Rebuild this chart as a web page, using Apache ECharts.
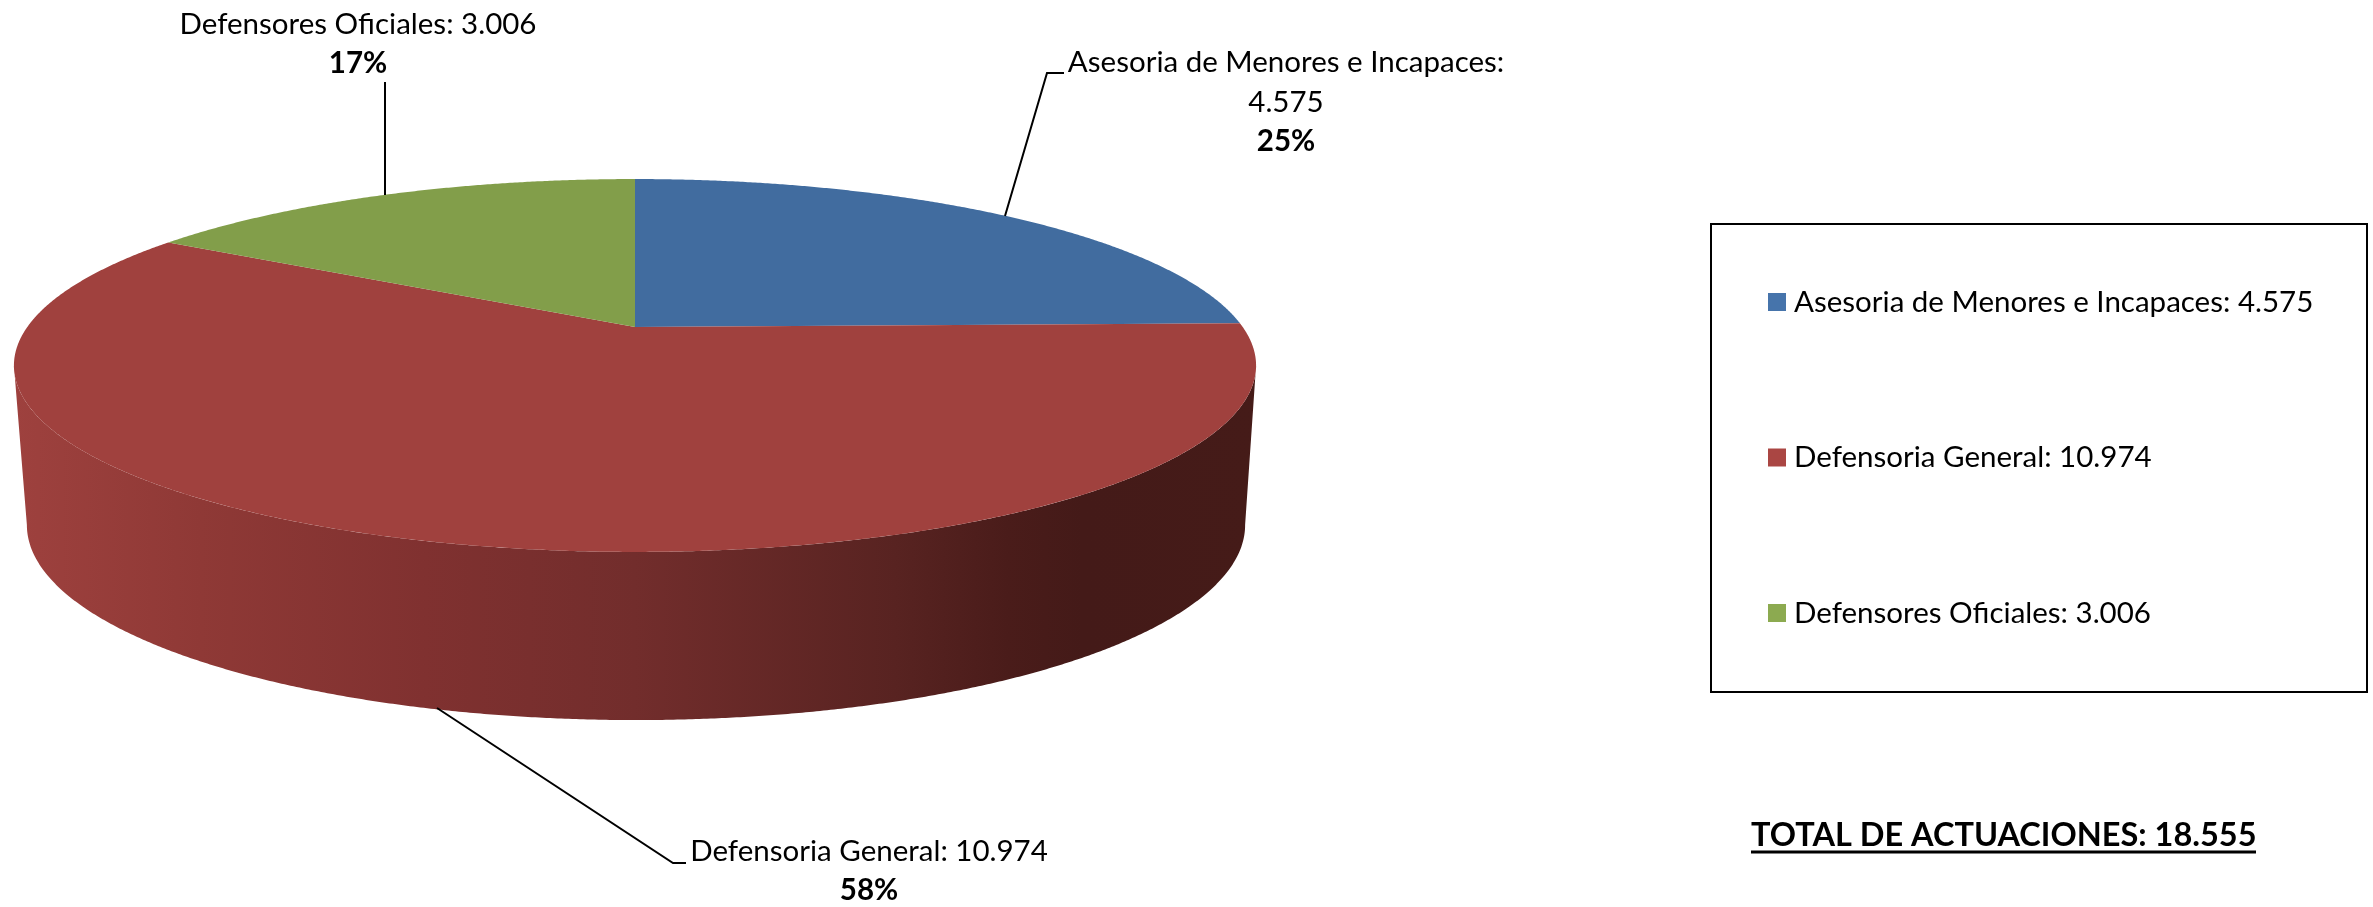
<!DOCTYPE html>
<html>
<head>
<meta charset="utf-8">
<title>Total de actuaciones</title>
<script src="https://cdn.jsdelivr.net/npm/echarts@6/dist/echarts.min.js"></script>
<style>
  html, body { margin: 0; padding: 0; background: #fff; }
  #chart { width: 2373px; height: 907px; }
</style>
</head>
<body>
<div id="chart"></div>
<script>
// datos
var categories = ['Asesoria de Menores e Incapaces', 'Defensoria General', 'Defensores Oficiales']
var values = [4575, 10974, 3006]
var valueLabels = ['4.575', '10.974', '3.006']
var percentLabels = ['25%', '58%', '17%']
var total = '18.555'

var FONT = 'Lato'
var sliceColors = ['#416c9f', '#a0413e', '#829e4a']
var legendColors = ['#4674ab', '#aa4643', '#8caa50']

// vista en perspectiva del pie: k es la fuga, top y base las dos caras
var k = 0.2064
var top3d = { x: 635, y: 327, a: 607.7, b: 178.5 }
var base3d = { x: 636, y: 484.8, a: 596, b: 186.7 }

function project(face, angle) {
  var X = Math.sin(angle)
  var Y = Math.cos(angle)
  var w = 1 + k * Y
  return [face.x + face.a * X / w, face.y - face.b * Y / w]
}

function arc(face, from, to) {
  var pts = []
  var n = Math.ceil(Math.abs(to - from) / 0.005)
  for (var i = 0; i <= n; i++) {
    pts.push(project(face, from + (to - from) * i / n))
  }
  return pts
}

var sum = values.reduce(function (a, b) { return a + b }, 0)

function startAngle(index) {
  var acc = 0
  for (var i = 0; i < index; i++) acc += values[i]
  return acc / sum * Math.PI * 2
}

// etiquetas y lineas guia
var labelLayout = [
  { x: 1286, y: 102, line: [[1005, 216], [1047, 73], [1064, 73]] },
  { x: 869, y: 871, line: [[437, 708], [673, 863], [686, 863]] },
  { x: 358, y: 44, line: [[385, 195], [385, 82]] }
]

function labelText(i) {
  var name = categories[i] + ':'
  if (i === 0) return '{n|' + name + '}\n{n|' + valueLabels[i] + '}\n{b|' + percentLabels[i] + '}'
  return '{n|' + name + ' ' + valueLabels[i] + '}\n{b|' + percentLabels[i] + '}'
}

function renderSlice(params, api) {
  var i = params.seriesIndex
  var from = startAngle(i)
  var to = from + api.value(0) / sum * Math.PI * 2
  var children = []

  // pared lateral, solo la parte visible entre los dos extremos de la elipse
  var visFrom = Math.max(from, Math.acos(-k))
  var visTo = Math.min(to, Math.PI * 2 - Math.acos(-k))
  if (visTo > visFrom) {
    children.push({
      type: 'polygon',
      shape: { points: arc(top3d, visFrom, visTo).concat(arc(base3d, visTo, visFrom)) },
      style: {
        fill: {
          type: 'linear', x: 0, y: 0, x2: 1, y2: 0,
          colorStops: [
            { offset: 0, color: '#9e413e' },
            { offset: 0.15, color: '#8f3936' },
            { offset: 0.33, color: '#803130' },
            { offset: 0.5, color: '#722d2c' },
            { offset: 0.71, color: '#582321' },
            { offset: 0.8, color: '#4a1c1a' },
            { offset: 0.86, color: '#441a18' },
            { offset: 1, color: '#451b18' }
          ]
        }
      }
    })
  }

  children.push({
    type: 'polygon',
    shape: { points: [[top3d.x, top3d.y]].concat(arc(top3d, from, to)) },
    style: { fill: sliceColors[i] }
  })

  var lay = labelLayout[i]
  children.push({
    type: 'polyline',
    shape: { points: lay.line },
    style: { stroke: '#000', lineWidth: 2, fill: null }
  })
  children.push({
    type: 'text',
    style: {
      x: lay.x,
      y: lay.y,
      text: labelText(i),
      align: 'center',
      verticalAlign: 'middle',
      rich: {
        n: { fontFamily: FONT, fontSize: 29.5, lineHeight: 39.5, fill: '#000', align: 'center' },
        b: { fontFamily: FONT, fontSize: 29.5, fontWeight: 'bold', lineHeight: 39.5, fill: '#000', align: 'center' }
      }
    }
  })
  return { type: 'group', children: children }
}

var legendNames = categories.map(function (c, i) { return c + ': ' + valueLabels[i] })

var chart = echarts.init(document.getElementById('chart'))
chart.setOption({
  backgroundColor: '#fff',
  animation: false,
  title: {
    text: 'TOTAL DE ACTUACIONES: ' + total,
    left: 1751,
    top: 819,
    padding: 0,
    textStyle: { fontFamily: FONT, fontSize: 32.5, fontWeight: 'bold', color: '#000' }
  },
  legend: {
    orient: 'vertical',
    left: 1768,
    top: 287,
    padding: 0,
    itemGap: 125.5,
    itemWidth: 18,
    itemHeight: 18,
    icon: 'rect',
    selectedMode: false,
    textStyle: { fontFamily: FONT, fontSize: 29.5, color: '#000', padding: [0, 0, 0, 3] },
    data: legendNames.map(function (n, i) {
      return { name: n, itemStyle: { color: legendColors[i] } }
    })
  },
  graphic: [
    { type: 'rect', shape: { x: 1711, y: 224, width: 656, height: 468 }, style: { fill: null, stroke: '#000', lineWidth: 2 }, z: 1 },
    { type: 'line', shape: { x1: 1751, y1: 852, x2: 2256, y2: 852 }, style: { stroke: '#000', lineWidth: 3 }, z: 1 }
  ],
  series: legendNames.map(function (n, i) {
    return {
      type: 'custom',
      name: n,
      coordinateSystem: 'none',
      renderItem: renderSlice,
      itemStyle: { color: sliceColors[i] },
      data: [[values[i]]]
    }
  })
})
</script>
</body>
</html>
